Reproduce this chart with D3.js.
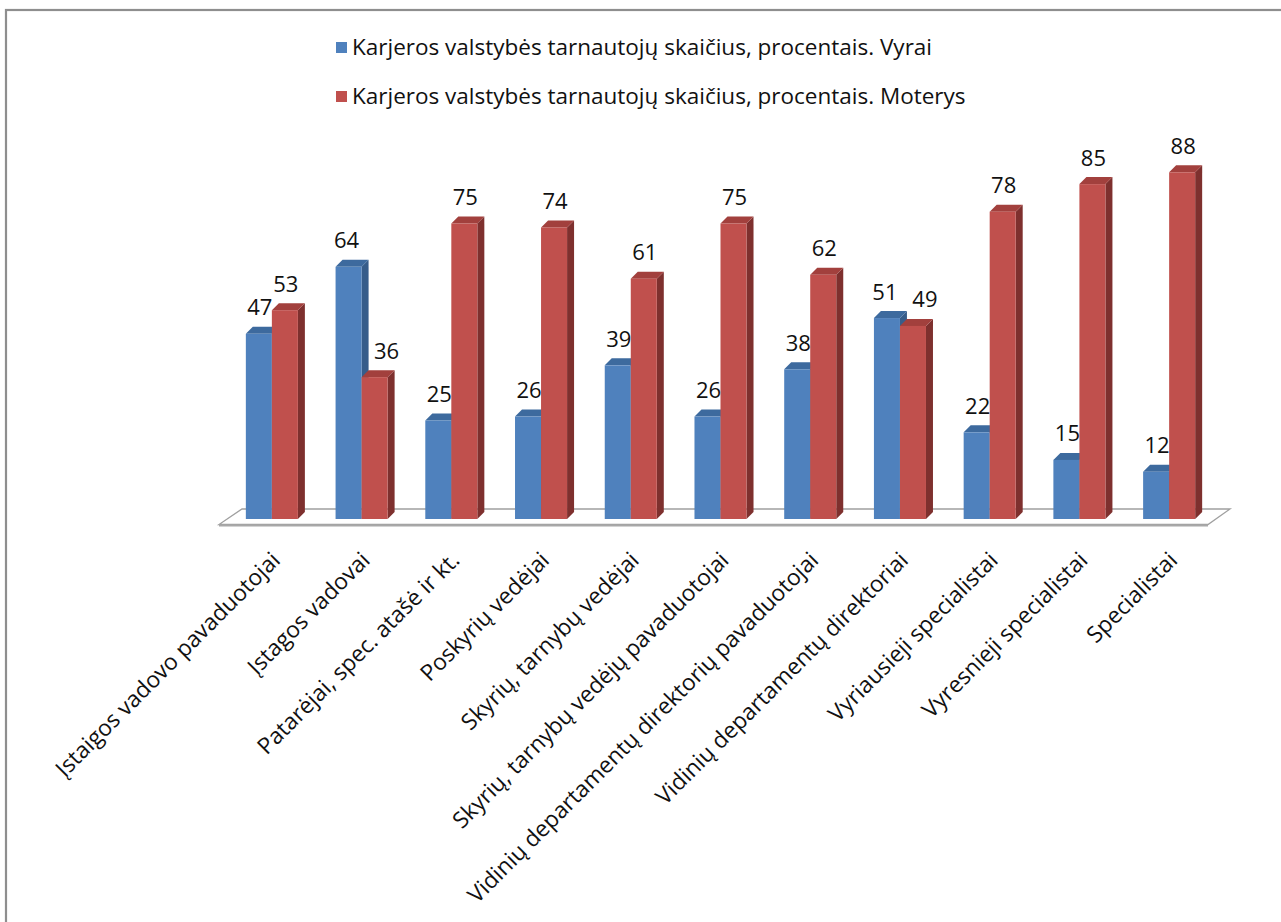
<!DOCTYPE html>
<html>
<head>
<meta charset="utf-8">
<script src="https://cdn.jsdelivr.net/npm/d3@7"></script>
<style>
  html, body { margin: 0; padding: 0; background: #fff; }
  svg { display: block; font-family: "Open Sans", Lato, sans-serif; }
</style>
</head>
<body>
<svg id="chart" width="1281" height="922"></svg>
<script>
// Career civil servants by position group, percent of men and women
const categories = [
  "Įstaigos vadovo pavaduotojai",
  "Įstagos vadovai",
  "Patarėjai, spec. atašė ir kt.",
  "Poskyrių vedėjai",
  "Skyrių, tarnybų vedėjai",
  "Skyrių, tarnybų vedėjų pavaduotojai",
  "Vidinių departamentų direktorių pavaduotojai",
  "Vidinių departamentų direktoriai",
  "Vyriausieji specialistai",
  "Vyresnieji specialistai",
  "Specialistai"
];
const seriesNames = [
  "Karjeros valstybės tarnautojų skaičius, procentais. Vyrai",
  "Karjeros valstybės tarnautojų skaičius, procentais. Moterys"
];
const vyrai   = [47, 64, 25, 26, 39, 26, 38, 51, 22, 15, 12];
const moterys = [53, 36, 75, 74, 61, 75, 62, 49, 78, 85, 88];
const seriesValues = [vyrai, moterys];

// Office-style 3D palette: front, top, side
const palette = [
  { front: "#4f81bd", top: "#3d6a9e", side: "#375d8a" },
  { front: "#c0504d", top: "#a2403d", side: "#7e302e" }
];

const svg = d3.select("#chart");

// outer chart frame
svg.append("rect")
  .attr("x", 6).attr("y", 10)
  .attr("width", 1300).attr("height", 950)
  .attr("fill", "none")
  .attr("stroke", "#8e8e8e")
  .attr("stroke-width", 2.2);

const x = d3.scaleBand()
  .domain(categories)
  .range([227, 1214])
  .paddingInner(0.42)
  .paddingOuter(0.21);

const xs = d3.scaleBand()
  .domain(seriesNames)
  .range([0, x.bandwidth()]);

const y = d3.scaleLinear().domain([0, 100]).range([519, 125]);

const depth = 7; // 3D offset of top and side faces

// floor
const [r0, r1] = x.range();
const floorFront = y(0) + 5.5, floorBack = y(0) - 10;
svg.append("path")
  .attr("d", `M${r0 - 8},${floorFront} L${r1 - 6},${floorFront} L${r1 + 16},${floorBack} L${r0 + 15},${floorBack} Z`)
  .attr("fill", "#fff")
  .attr("stroke", "#a0a0a0")
  .attr("stroke-width", 1.3);
svg.append("line")
  .attr("x1", r0 - 8).attr("x2", r1 - 6)
  .attr("y1", floorFront + 1).attr("y2", floorFront + 1)
  .attr("stroke", "#a8a8a8")
  .attr("stroke-width", 2);

// bars
const groups = svg.append("g").selectAll("g")
  .data(categories)
  .join("g")
  .attr("transform", d => `translate(${x(d)},0)`);

seriesNames.forEach((s, si) => {
  const col = palette[si];
  const w = xs.bandwidth();
  groups.each(function(cat, ci) {
    const g = d3.select(this);
    const v = seriesValues[si][ci];
    const x0 = xs(s), x1 = x0 + w;
    const yt = y(v), yb = y(0);
    g.append("path")
      .attr("d", `M${x1},${yb} L${x1 + depth},${yb - depth} L${x1 + depth},${yt - depth} L${x1},${yt} Z`)
      .attr("fill", col.side);
    g.append("path")
      .attr("d", `M${x0},${yt} L${x0 + depth},${yt - depth} L${x1 + depth},${yt - depth} L${x1},${yt} Z`)
      .attr("fill", col.top);
    g.append("rect")
      .attr("x", x0).attr("y", yt)
      .attr("width", w).attr("height", yb - yt)
      .attr("fill", col.front);
  });
});

// value labels; when the men's bar is taller, the pair is pushed apart
seriesNames.forEach((s, si) => {
  groups.append("text")
    .attr("x", (d, ci) => {
      const base = xs(s) + xs.bandwidth() / 2 + 1;
      if (vyrai[ci] > moterys[ci]) return base + (si === 0 ? -3 : 11);
      return base;
    })
    .attr("y", (d, ci) => y(seriesValues[si][ci]) - 18.5)
    .attr("text-anchor", "middle")
    .attr("font-size", 22)
    .attr("fill", "#111")
    .text((d, ci) => seriesValues[si][ci]);
});

// category labels, rotated
svg.append("g").selectAll("text")
  .data(categories)
  .join("text")
  .attr("transform", d => `translate(${x(d) + x.bandwidth() / 2 + 4},556) rotate(-45)`)
  .attr("text-anchor", "end")
  .attr("dy", "0.35em")
  .attr("font-size", 22.7)
  .attr("fill", "#111")
  .text(d => d);

// legend
const legend = svg.append("g")
  .selectAll("g")
  .data(seriesNames)
  .join("g")
  .attr("transform", (d, i) => `translate(336,${42 + i * 49})`);
legend.append("rect")
  .attr("width", 11).attr("height", 11)
  .attr("fill", (d, i) => palette[i].front);
legend.append("text")
  .attr("x", 16).attr("y", 13)
  .attr("font-size", 22.5)
  .attr("fill", "#111")
  .text(d => d);
</script>
</body>
</html>
